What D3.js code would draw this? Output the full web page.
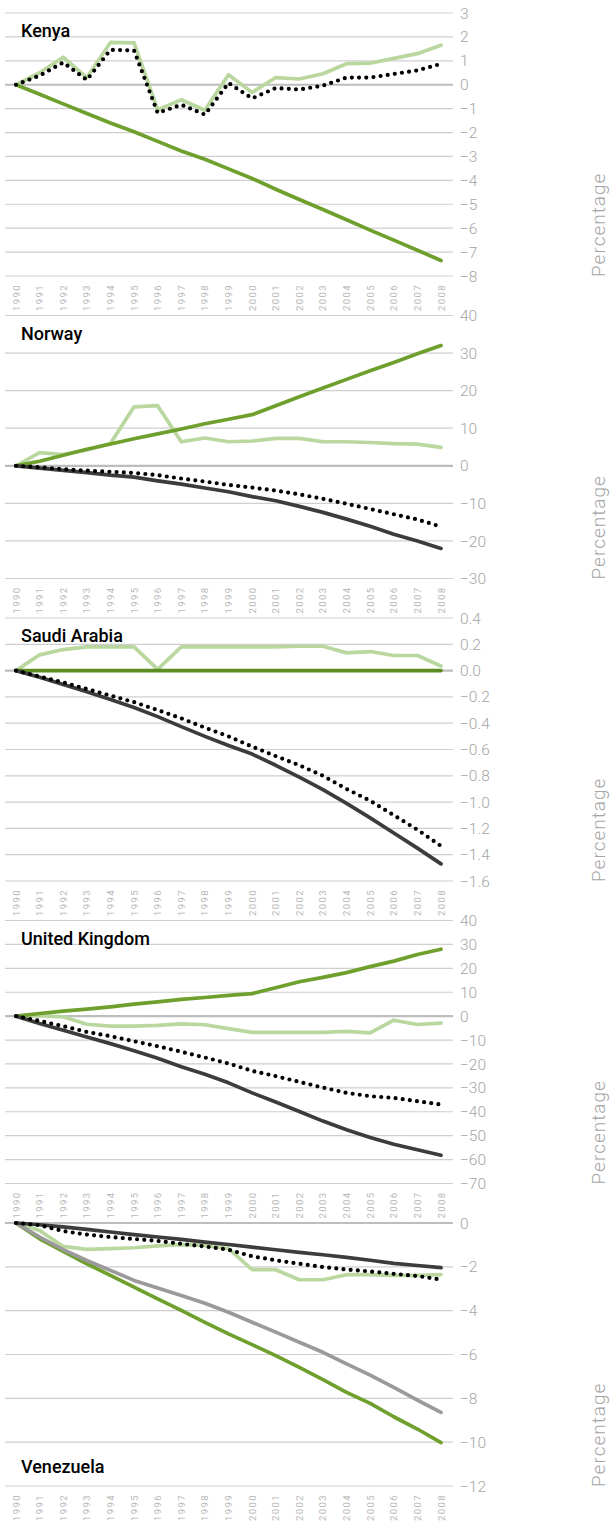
<!DOCTYPE html>
<html>
<head>
<meta charset="utf-8">
<script src="https://cdn.jsdelivr.net/npm/d3@7/dist/d3.min.js"></script>
<style>
  body { margin: 0; background: #fff; }
  text { font-family: Roboto, "Liberation Sans", sans-serif; }
</style>
</head>
<body>
<svg id="chart" width="616" height="1523"></svg>
<script>
const years = d3.range(1990, 2009);

// Kenya
const kenyaLight  = [0, 0.5, 1.15, 0.3, 1.77, 1.75, -1.05, -0.63, -1.07, 0.42, -0.32, 0.3, 0.24, 0.46, 0.88, 0.9, 1.1, 1.3, 1.65];
const kenyaDotted = [0, 0.38, 0.93, 0.2, 1.46, 1.43, -1.18, -0.84, -1.25, 0.07, -0.57, -0.14, -0.2, -0.04, 0.3, 0.3, 0.45, 0.6, 0.87];
const kenyaGreen  = [0, -0.4, -0.8, -1.2, -1.6, -1.97, -2.37, -2.77, -3.12, -3.52, -3.92, -4.37, -4.8, -5.22, -5.65, -6.08, -6.5, -6.92, -7.35];
const kenyaTicks  = [3, 2, 1, 0, -1, -2, -3, -4, -5, -6, -7, -8];

// Norway
const norwayLight  = [0, 3.5, 3.0, 4.2, 5.9, 15.7, 16.0, 6.4, 7.4, 6.4, 6.6, 7.3, 7.3, 6.4, 6.4, 6.2, 5.9, 5.75, 4.9];
const norwayGreen  = [0, 1.2, 2.8, 4.4, 5.8, 7.2, 8.5, 9.8, 11.2, 12.4, 13.6, 16, 18.4, 20.7, 23.0, 25.3, 27.5, 29.8, 32];
const norwayGray   = [0, -0.6, -1.2, -1.8, -2.5, -3.0, -4.0, -4.9, -5.9, -6.9, -8.2, -9.3, -10.8, -12.4, -14.2, -16.1, -18.2, -20.0, -22.0];
const norwayDotted = [0, -0.4, -0.9, -1.3, -1.6, -1.9, -2.5, -3.4, -4.2, -5.1, -5.8, -6.6, -7.6, -8.8, -10.1, -11.5, -12.9, -14.3, -16.2];
const norwayTicks  = [40, 30, 20, 10, 0, -10, -20, -30];

// Saudi Arabia
const saudiLight  = [0, 0.12, 0.16, 0.18, 0.18, 0.18, 0.01, 0.18, 0.18, 0.18, 0.18, 0.18, 0.185, 0.185, 0.135, 0.145, 0.115, 0.115, 0.035];
const saudiGreen  = [0, 0, 0, 0, 0, 0, 0, 0, 0, 0, 0, 0, 0, 0, 0, 0, 0, 0, 0];
const saudiGray   = [0, -0.05, -0.105, -0.16, -0.22, -0.28, -0.35, -0.426, -0.5, -0.57, -0.635, -0.72, -0.81, -0.905, -1.01, -1.12, -1.235, -1.35, -1.47];
const saudiDotted = [0, -0.045, -0.09, -0.14, -0.19, -0.24, -0.3, -0.363, -0.434, -0.5, -0.578, -0.65, -0.72, -0.8, -0.9, -0.99, -1.1, -1.21, -1.334];
const saudiTicks  = [0.4, 0.2, 0.0, -0.2, -0.4, -0.6, -0.8, -1.0, -1.2, -1.4, -1.6];

// United Kingdom
const ukLight  = [0, 0.2, -0.3, -3.4, -4.2, -4.2, -3.9, -3.2, -3.6, -5.2, -6.8, -6.8, -6.8, -6.8, -6.4, -7.0, -1.7, -3.5, -2.9];
const ukGreen  = [0, 1.1, 2.1, 2.9, 3.9, 5.0, 6.0, 7.0, 7.8, 8.7, 9.4, 11.9, 14.4, 16.2, 18.2, 20.7, 23, 25.8, 28];
const ukGray   = [0, -3.1, -5.9, -8.7, -11.5, -14.5, -17.6, -21.2, -24.3, -27.9, -32.1, -35.9, -39.9, -43.9, -47.5, -50.8, -53.6, -55.9, -58.2];
const ukDotted = [0, -2, -4.2, -6.6, -8.4, -10.5, -12.6, -14.9, -17.3, -19.8, -22.9, -25.1, -27.5, -29.9, -32.1, -33.5, -34.2, -35.6, -37];
const ukTicks  = [40, 30, 20, 10, 0, -10, -20, -30, -40, -50, -60, -70];

// Venezuela
const venLight   = [0, -0.34, -1.07, -1.2, -1.17, -1.13, -1.04, -0.99, -1.02, -1.17, -2.13, -2.13, -2.59, -2.59, -2.36, -2.36, -2.39, -2.39, -2.36];
const venGreen   = [0, -0.72, -1.3, -1.86, -2.39, -2.93, -3.46, -3.99, -4.53, -5.06, -5.55, -6.05, -6.59, -7.15, -7.73, -8.23, -8.84, -9.4, -10.02];
const venMidGray = [0, -0.64, -1.22, -1.71, -2.16, -2.62, -2.97, -3.31, -3.66, -4.07, -4.53, -4.98, -5.44, -5.9, -6.43, -6.94, -7.5, -8.08, -8.64];
const venGray    = [0, -0.08, -0.18, -0.29, -0.41, -0.53, -0.64, -0.75, -0.87, -0.98, -1.1, -1.22, -1.34, -1.45, -1.57, -1.7, -1.84, -1.94, -2.04];
const venDotted  = [0, -0.1, -0.37, -0.53, -0.64, -0.73, -0.82, -0.95, -1.07, -1.22, -1.52, -1.7, -1.86, -2.01, -2.12, -2.21, -2.32, -2.42, -2.58];
const venTicks   = [0, -2, -4, -6, -8, -10, -12];

const colors = {
    light: '#bad79f',
    green: '#6f9f2d',
    darkGreen: '#5b8d22',
    gray: '#3c3c3c',
    midGray: '#9a9a9a',
    dotted: '#000'
};

const panels = [
    { name: 'Kenya', ticks: kenyaTicks, fmt: d3.format('d'), titleBottom: false,
      series: [[kenyaLight, 'light'], [kenyaGreen, 'green'], [kenyaDotted, 'dotted']] },
    { name: 'Norway', ticks: norwayTicks, fmt: d3.format('d'), titleBottom: false,
      series: [[norwayLight, 'light'], [norwayGreen, 'green'], [norwayGray, 'gray'], [norwayDotted, 'dotted']] },
    { name: 'Saudi Arabia', ticks: saudiTicks, fmt: d3.format('.1f'), titleBottom: false,
      series: [[saudiLight, 'light'], [saudiGreen, 'darkGreen'], [saudiGray, 'gray'], [saudiDotted, 'dotted']] },
    { name: 'United Kingdom', ticks: ukTicks, fmt: d3.format('d'), titleBottom: false,
      series: [[ukLight, 'light'], [ukGreen, 'green'], [ukGray, 'gray'], [ukDotted, 'dotted']] },
    { name: 'Venezuela', ticks: venTicks, fmt: d3.format('d'), titleBottom: true,
      series: [[venLight, 'light'], [venGreen, 'green'], [venMidGray, 'midGray'], [venGray, 'gray'], [venDotted, 'dotted']] }
];

const svg = d3.select('#chart');
const plotH = 263;
const gridLeft = 5, gridRight = 453;
const x = d3.scaleLinear().domain([1990, 2008]).range([16, 441]);

panels.forEach((p, i) => {
    let top = 13 + i * 302.5;
    let g = svg.append('g').attr('transform', `translate(0,${top})`);
    let y = d3.scaleLinear().domain([d3.min(p.ticks), d3.max(p.ticks)]).range([plotH, 0]);

    // gridlines
    g.selectAll('.grid').data(p.ticks).join('line')
        .attr('x1', gridLeft).attr('x2', gridRight)
        .attr('y1', d => y(d)).attr('y2', d => y(d))
        .attr('stroke', d => d === 0 ? '#bdbdbd' : '#cfcfcf')
        .attr('stroke-width', d => d === 0 ? 2.2 : 1.2);

    // y tick labels
    g.selectAll('.tick').data(p.ticks).join('text')
        .attr('x', 460).attr('y', d => y(d)).attr('dy', '0.36em')
        .attr('fill', '#a5a5a5').attr('font-size', 15.5).attr('font-weight', 300)
        .text(d => p.fmt(d));

    // axis title
    g.append('text')
        .attr('transform', `translate(605,${plotH + 1}) rotate(-90)`)
        .attr('fill', '#a5a5a5').attr('font-size', 19).attr('font-weight', 300)
        .attr('letter-spacing', 1)
        .text('Percentage');

    // year labels
    g.selectAll('.year').data(years).join('text')
        .attr('transform', d => `translate(${x(d) + 3.5},${plotH + 8}) rotate(-90)`)
        .attr('text-anchor', 'end')
        .attr('fill', '#b8b8b8').attr('font-size', 9.5).attr('letter-spacing', 1.4)
        .text(d => d);

    // lines
    let line = d3.line().x((d, j) => x(years[j])).y(d => y(d));
    p.series.forEach(([vals, kind]) => {
        let path = g.append('path').datum(vals)
            .attr('d', line)
            .attr('fill', 'none')
            .attr('stroke', colors[kind])
            .attr('stroke-linecap', 'round')
            .attr('stroke-linejoin', 'round');
        if (kind === 'dotted') {
            path.attr('stroke-width', 4.2).attr('stroke-dasharray', '0,7.2');
        } else {
            path.attr('stroke-width', 3.7);
        }
    });

    // panel title
    g.append('text')
        .attr('x', 21).attr('y', p.titleBottom ? 250 : 24)
        .attr('fill', '#000').attr('font-size', 18).attr('font-weight', 500)
        .text(p.name);
});
</script>
</body>
</html>
